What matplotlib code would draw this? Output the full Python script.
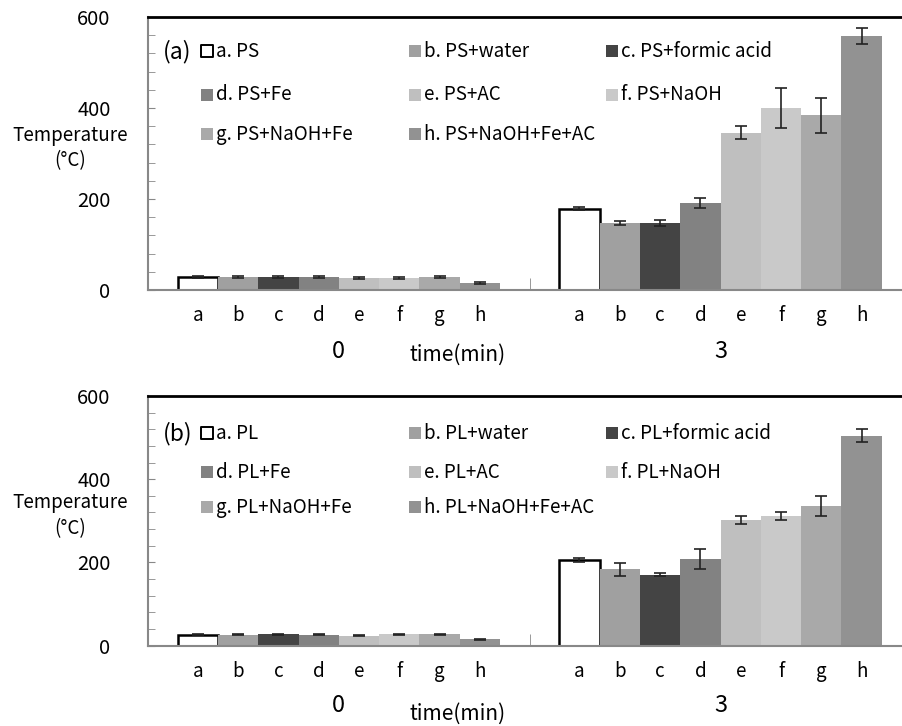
import matplotlib
matplotlib.use("Agg")
import matplotlib.pyplot as plt
import numpy as np

plt.rcParams['font.family'] = ['Noto Sans CJK KR', 'DejaVu Sans']

# data
times = ["0", "3"]
letters = ["a", "b", "c", "d", "e", "f", "g", "h"]
ps_labels = ["a. PS", "b. PS+water", "c. PS+formic acid", "d. PS+Fe", "e. PS+AC",
             "f. PS+NaOH", "g. PS+NaOH+Fe", "h. PS+NaOH+Fe+AC"]
pl_labels = ["a. PL", "b. PL+water", "c. PL+formic acid", "d. PL+Fe", "e. PL+AC",
             "f. PL+NaOH", "g. PL+NaOH+Fe", "h. PL+NaOH+Fe+AC"]

ps_t0 = [29, 28, 28, 28, 26, 27, 28, 16]
ps_t0_err = [2, 2, 2, 2, 2, 2, 2, 2]
ps_t3 = [179, 147, 147, 192, 346, 401, 384, 558]
ps_t3_err = [3, 5, 7, 11, 14, 44, 39, 18]

pl_t0 = [26, 26, 27, 26, 24, 27, 27, 15]
pl_t0_err = [1, 1, 1, 1, 2, 1, 1, 1]
pl_t3 = [205, 183, 170, 208, 302, 312, 335, 505]
pl_t3_err = [5, 16, 4, 23, 10, 9, 24, 16]

colors = ["white", "#a0a0a0", "#444444", "#828282", "#bfbfbf", "#c9c9c9", "#a9a9a9", "#929292"]

W, H = 903, 726
fig = plt.figure(figsize=(W / 100, H / 100), dpi=100)

def px_axes(left, top, right, bottom):
    return fig.add_axes([left / W, 1 - bottom / H, (right - left) / W, (bottom - top) / H])

def draw_panel(ax, t0, e0, t3, e3, labels, tag, xlab_offsets, row_y):
    bw = 0.1056
    offs = (np.arange(8) - 3.5) * bw
    for i in range(8):
        xs = np.array([0, 1]) + offs[i]
        vals = [t0[i], t3[i]]
        errs = [e0[i], e3[i]]
        if i == 0:
            ax.bar(xs, vals, width=bw, color="white", edgecolor="black", linewidth=1.8, zorder=2)
        else:
            ax.bar(xs, vals, width=bw, color=colors[i], edgecolor="none", zorder=2)
        ax.errorbar(xs, vals, yerr=errs, fmt="none", ecolor="#222222", elinewidth=1.2,
                    capsize=4, capthick=1.2, zorder=3)

    ax.set_xlim(-0.5, 1.478)
    ax.set_ylim(0, 600)
    ax.set_yticks([0, 200, 400, 600])
    ax.set_yticks(np.arange(0, 601, 40), minor=True)
    ax.tick_params(axis="y", which="both", direction="in", length=5, color="#888888",
                   labelsize=14.5, pad=27)
    ax.set_xticks([])
    ax.set_xticks([0.5], minor=True)
    ax.tick_params(axis="x", which="minor", direction="in", length=9, color="#888888",
                   labelbottom=False)
    for s in ["left", "bottom"]:
        ax.spines[s].set_color("#888888")
        ax.spines[s].set_linewidth(1.5)
    ax.spines["right"].set_visible(False)
    ax.spines["top"].set_color("black")
    ax.spines["top"].set_linewidth(2)

    # category letters and time labels
    for g in range(2):
        for i in range(8):
            ax.annotate(letters[i], xy=(g + offs[i], 0), xycoords=("data", "axes fraction"),
                        xytext=(0, -26), textcoords="offset pixels", ha="center", va="center",
                        fontsize=13.5)
        ax.annotate(times[g], xy=(g, 0), xycoords=("data", "axes fraction"),
                    xytext=(0, xlab_offsets[0]), textcoords="offset pixels", ha="center",
                    va="center", fontsize=17)
    ax.annotate("time(min)", xy=(0.31, 0), xycoords=("data", "axes fraction"),
                xytext=(0, xlab_offsets[1]), textcoords="offset pixels", ha="center",
                va="center", fontsize=15)

    ax.set_ylabel("Temperature\n(\u00b0C)", rotation=0, fontsize=13.5, linespacing=1.3,
                  ha="center", va="center")
    ax.yaxis.set_label_coords(-0.103, 0.52)

    # legend laid out row by row in three columns
    ax.text(0.02, row_y[0], tag, transform=ax.transAxes, fontsize=16.5, va="center", ha="left")
    col_x = [0.078, 0.353, 0.614]
    for k, lab in enumerate(labels):
        r, c = divmod(k, 3)
        fc = colors[k]
        ec = "black" if k == 0 else colors[k]
        ax.scatter([col_x[c]], [row_y[r]], marker="s", s=70, facecolor=fc, edgecolor=ec,
                   linewidth=1.4 if k == 0 else 0, transform=ax.transAxes, zorder=5,
                   clip_on=False)
        ax.text(col_x[c] + 0.012, row_y[r], lab, transform=ax.transAxes, fontsize=13.5,
                va="center", ha="left")

ax1 = px_axes(148, 17, 903, 290)
draw_panel(ax1, ps_t0, ps_t0_err, ps_t3, ps_t3_err, ps_labels, "(a)", (-62, -65),
           [0.875, 0.715, 0.57])

ax2 = px_axes(148, 396, 903, 645.5)
draw_panel(ax2, pl_t0, pl_t0_err, pl_t3, pl_t3_err, pl_labels, "(b)", (-60, -68),
           [0.85, 0.695, 0.555])

fig.savefig("out.png", dpi=100)
